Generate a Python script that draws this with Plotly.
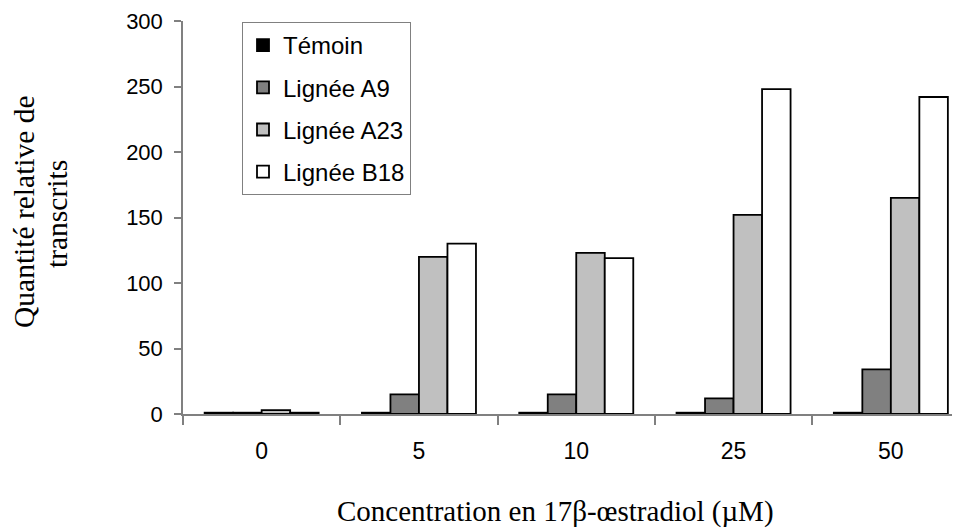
import plotly.graph_objects as go

categories = ["0", "5", "10", "25", "50"]
temoin = [1, 1, 1, 1, 1]
a9 = [1, 15, 15, 12, 34]
a23 = [3, 120, 123, 152, 165]
b18 = [1, 130, 119, 248, 242]
series_names = ["Témoin", "Lignée A9", "Lignée A23", "Lignée B18"]
series_values = [temoin, a9, a23, b18]
colors = ["#000000", "#808080", "#C0C0C0", "#FFFFFF"]
y_ticks = [0, 50, 100, 150, 200, 250, 300]

# page body has an 8px margin; compensate
OFF = 8
W, H = 960 - OFF, 529 - OFF
L, R, T = 183 - OFF, 0, 21 - OFF
plot_h = 393
B = H - T - plot_h
cat_px = 157.3
plot_w = W - L - R

def px_x(p):
    return (p - 183) / plot_w

def px_y(p):
    return (414 - p) / plot_h

fig = go.Figure()
for i, (name, vals, col) in enumerate(zip(series_names, series_values, colors)):
    fig.add_trace(go.Bar(
        x=categories, y=vals, name=name,
        marker=dict(color=col, line=dict(color="#000000", width=1.8)),
        legendgroup=f"g{i}",
    ))

serif = "Liberation Serif, Times New Roman, serif"
fig.update_layout(
    width=W, height=H,
    margin=dict(l=L, r=R, t=T, b=B, pad=0),
    paper_bgcolor="white", plot_bgcolor="white",
    barmode="group", bargap=0.275, bargroupgap=0,
    font=dict(family="Liberation Sans, Arial, sans-serif", size=22, color="#000000"),
    showlegend=True,
    legend=dict(
        x=px_x(242), y=px_y(22),
        xanchor="left", yanchor="top",
        bgcolor="white", bordercolor="#808080", borderwidth=1,
        font=dict(size=24, family="Liberation Sans, Arial, sans-serif"),
        tracegroupgap=8,
    ),
    xaxis=dict(
        type="category",
        range=[-0.5, -0.5 + plot_w / cat_px],
        tickson="boundaries",
        ticks="outside", ticklen=9, tickcolor="#808080", tickwidth=1.5,
        showline=True, linecolor="#808080", linewidth=1.5,
        showgrid=False, zeroline=False,
        ticklabelstandoff=16,
        tickfont=dict(size=23),
    ),
    yaxis=dict(
        range=[0, 300], tickvals=y_ticks,
        ticks="outside", ticklen=7, tickcolor="#808080", tickwidth=1.5,
        showline=True, linecolor="#808080", linewidth=1.5,
        showgrid=False, zeroline=False,
        ticklabelstandoff=7,
        tickfont=dict(size=22),
    ),
    annotations=[
        dict(text="Concentration en 17β-œstradiol (µM)",
             xref="paper", yref="paper",
             x=px_x(555), y=px_y(511),
             xanchor="center", yanchor="middle", showarrow=False,
             font=dict(family=serif, size=29, color="#000000")),
        dict(text="Quantité relative de",
             xref="paper", yref="paper",
             x=px_x(24), y=px_y(212),
             xanchor="center", yanchor="middle", showarrow=False, textangle=-90,
             font=dict(family=serif, size=29.5, color="#000000")),
        dict(text="transcrits",
             xref="paper", yref="paper",
             x=px_x(57), y=px_y(214),
             xanchor="center", yanchor="middle", showarrow=False, textangle=-90,
             font=dict(family=serif, size=29.5, color="#000000")),
    ],
)

fig.write_html("out.html")
